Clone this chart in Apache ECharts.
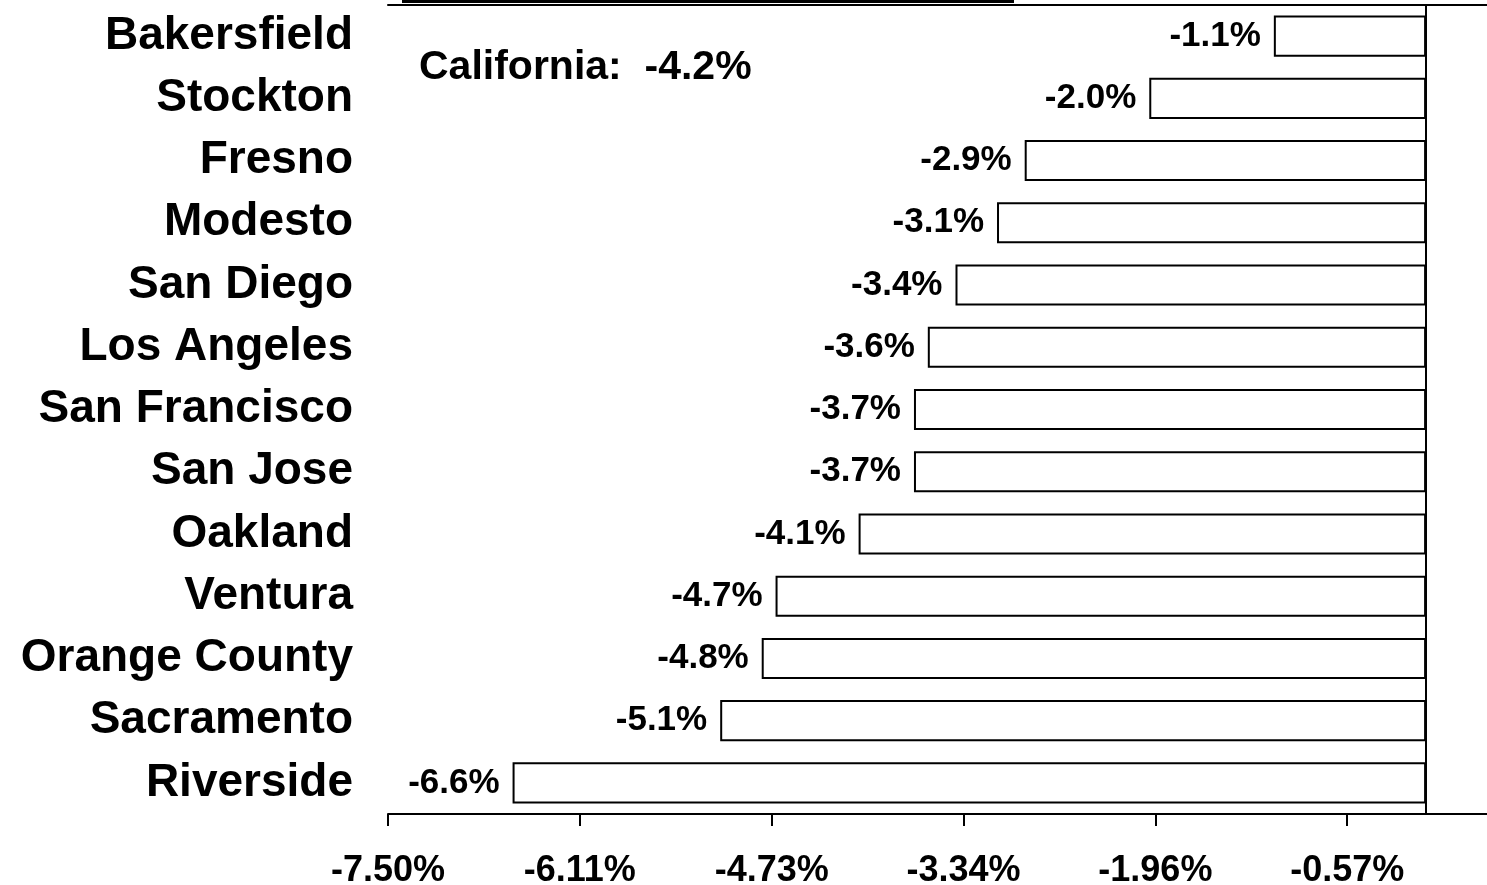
<!DOCTYPE html>
<html>
<head>
<meta charset="utf-8">
<script src="https://cdn.jsdelivr.net/npm/echarts@6/dist/echarts.min.js"></script>
<style>
  html, body { margin: 0; padding: 0; background: #fff; }
  #chart { width: 1487px; height: 885px; }
</style>
</head>
<body>
<div id="chart"></div>
<script>
// metro areas, top to bottom
const cities = ['Bakersfield', 'Stockton', 'Fresno', 'Modesto', 'San Diego', 'Los Angeles',
  'San Francisco', 'San Jose', 'Oakland', 'Ventura', 'Orange County', 'Sacramento', 'Riverside']
const changes = [-1.1, -2.0, -2.9, -3.1, -3.4, -3.6, -3.7, -3.7, -4.1, -4.7, -4.8, -5.1, -6.6]
// x axis ticks as printed on the original
const tickValues = [-7.5, -6.114, -4.728, -3.342, -1.956, -0.57]
const stateLabel = 'California:  -4.2%'

const font = "'Liberation Sans', Arial, sans-serif"

let myChart = echarts.init(document.getElementById('chart'))
let option = {
  animation: false,
  grid: { left: 388, right: 0, top: 5, bottom: 71, outerBoundsMode: 'none' },
  xAxis: [
    {
      type: 'value',
      min: -7.5,
      max: 0.44,
      position: 'bottom',
      axisLine: { show: true, lineStyle: { color: '#000', width: 2 } },
      axisTick: {
        show: true,
        customValues: tickValues,
        length: 12,
        lineStyle: { color: '#000', width: 2 }
      },
      axisLabel: {
        customValues: tickValues,
        formatter: v => v.toFixed(2) + '%',
        color: '#000',
        fontFamily: font,
        fontWeight: 'bold',
        fontSize: 36,
        margin: 39
      },
      splitLine: { show: false }
    },
    {
      // top frame line only
      type: 'value',
      min: -7.5,
      max: 0.44,
      position: 'top',
      axisLine: { show: true, lineStyle: { color: '#000', width: 2 } },
      axisTick: { show: false },
      axisLabel: { show: false },
      splitLine: { show: false }
    }
  ],
  yAxis: {
    type: 'category',
    data: cities,
    inverse: true,
    axisLine: { show: true, lineStyle: { color: '#000', width: 2 } },
    axisTick: { show: false },
    axisLabel: {
      color: '#000',
      fontFamily: font,
      fontWeight: 'bold',
      fontSize: 46,
      margin: 35,
      padding: [8, 0, 0, 0]
    }
  },
  series: [
    {
      type: 'bar',
      data: changes,
      barWidth: '66%',
      itemStyle: { color: '#fff', borderColor: '#000', borderWidth: 2 },
      label: {
        show: true,
        position: 'left',
        distance: 13,
        formatter: p => p.value.toFixed(1) + '%',
        color: '#000',
        fontFamily: font,
        fontWeight: 'bold',
        fontSize: 35,
        padding: [8, 0, 0, 0]
      },
      markLine: {
        silent: true,
        symbol: 'none',
        label: { show: false },
        lineStyle: { color: '#000', width: 2, type: 'solid' },
        data: [{ xAxis: 0 }]
      }
    }
  ],
  graphic: [
    {
      // cut-off title underline
      type: 'rect',
      shape: { x: 402, y: 0, width: 612, height: 3 },
      style: { fill: '#000' }
    },
    {
      type: 'text',
      left: 419,
      top: 47,
      style: {
        text: stateLabel,
        fill: '#000',
        font: 'bold 41px ' + font
      }
    }
  ]
}
myChart.setOption(option, true)
</script>
</body>
</html>
